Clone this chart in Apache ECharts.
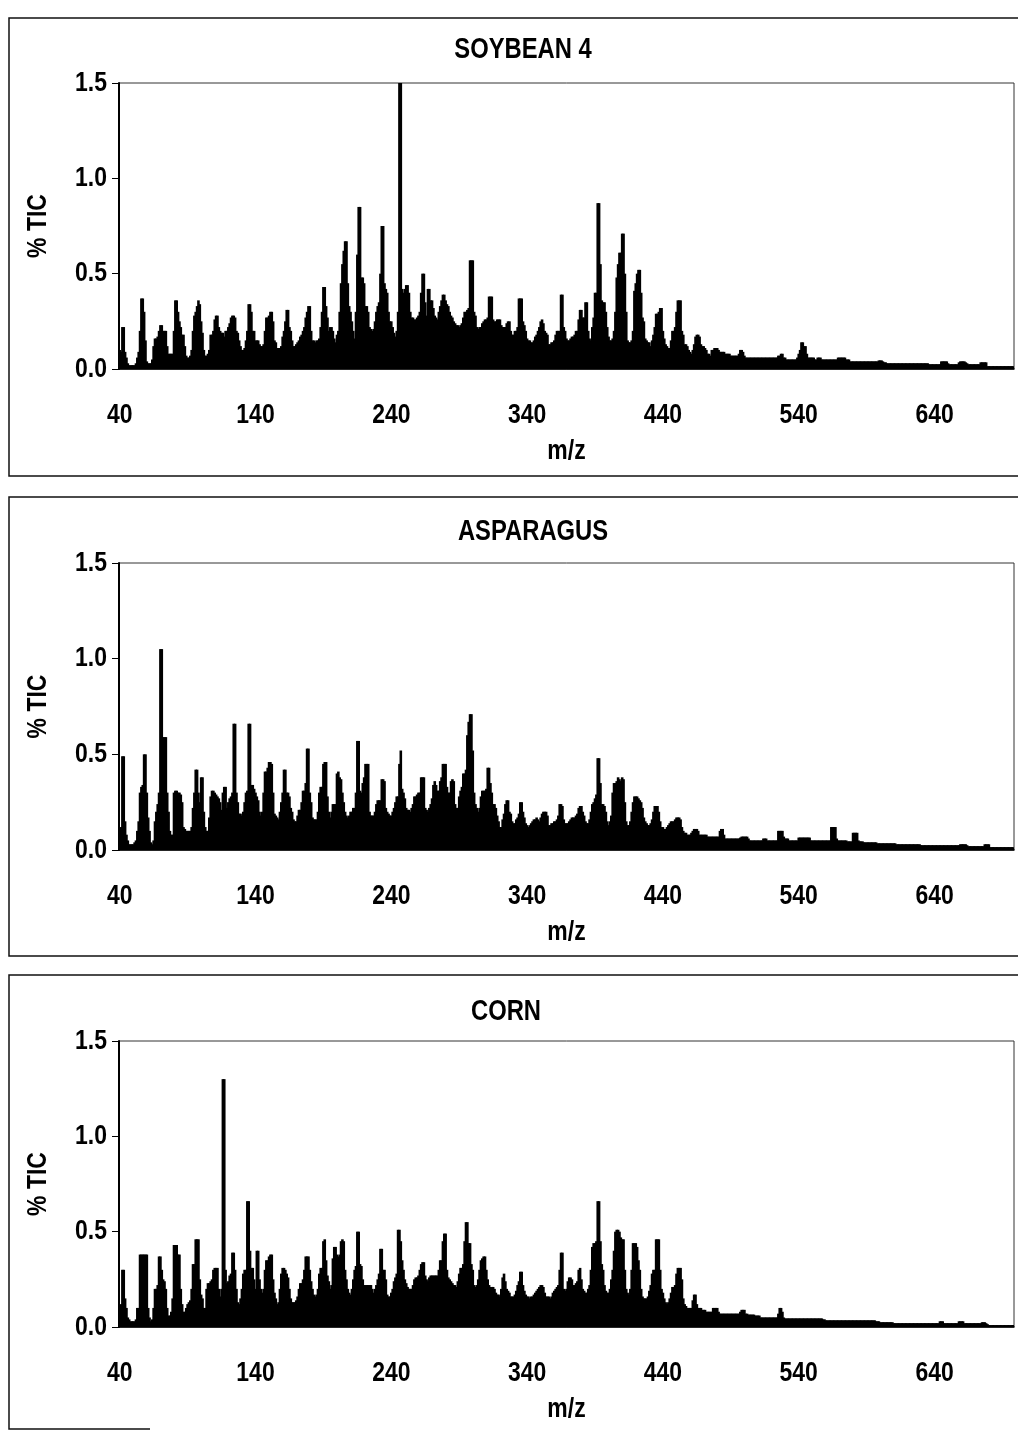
<!DOCTYPE html>
<html>
<head>
<meta charset="utf-8">
<script src="https://cdn.jsdelivr.net/npm/echarts@6/dist/echarts.min.js"></script>
<style>
html,body{margin:0;padding:0;background:#fff;}
#chart{width:1018px;height:1431px;}
</style>
</head>
<body>
<div id="chart"></div>
<script>
// ---------- DATA ----------
const MZ_START = 40;
const MZ_END = 698;
const X_TICK_LABELS = ['40', '140', '240', '340', '440', '540', '640'];
const Y_TICK_VALUES = [0.0, 0.5, 1.0, 1.5];
const Y_MIN = 0, Y_MAX = 1.5, Y_STEP = 0.5;
const PANEL_TITLES = ['SOYBEAN 4', 'ASPARAGUS', 'CORN'];
const X_NAME = 'm/z';
const Y_NAME = '% TIC';

// % TIC per unit m/z, starting at m/z 40 (10 values per row)
const SOYBEAN_4 = [
/*40*/ .10,.09,.22,.22,.09,.06,.03,.02,.02,.02,
/*50*/ .02,.02,.03,.06,.09,.20,.37,.37,.30,.15,
/*60*/ .04,.03,.03,.03,.05,.12,.16,.16,.17,.20,
/*70*/ .23,.23,.20,.20,.20,.12,.08,.08,.08,.08,
/*80*/ .20,.36,.36,.30,.25,.22,.18,.18,.12,.07,
/*90*/ .06,.06,.07,.10,.20,.28,.30,.33,.36,.34,
/*100*/ .25,.19,.10,.07,.07,.08,.10,.18,.18,.20,
/*110*/ .26,.28,.28,.22,.20,.19,.19,.17,.20,.20,
/*120*/ .22,.24,.27,.28,.28,.27,.20,.19,.15,.12,
/*130*/ .10,.10,.11,.15,.20,.34,.34,.30,.20,.20,
/*140*/ .15,.15,.15,.13,.12,.12,.13,.20,.27,.27,
/*150*/ .28,.30,.30,.25,.15,.14,.11,.11,.11,.12,
/*160*/ .17,.20,.25,.31,.31,.22,.20,.15,.12,.12,
/*170*/ .13,.14,.15,.17,.18,.20,.22,.27,.30,.33,
/*180*/ .33,.20,.15,.15,.14,.15,.15,.16,.22,.30,
/*190*/ .43,.43,.33,.27,.20,.22,.22,.20,.16,.14,
/*200*/ .18,.20,.30,.45,.55,.62,.67,.67,.45,.33,
/*210*/ .30,.25,.20,.16,.30,.60,.85,.85,.48,.48,
/*220*/ .45,.33,.33,.30,.22,.21,.20,.21,.25,.30,
/*230*/ .33,.35,.50,.75,.75,.45,.42,.40,.30,.25,
/*240*/ .25,.22,.19,.17,.20,.30,1.50,1.50,.42,.40,
/*250*/ .42,.44,.44,.40,.30,.27,.27,.26,.26,.27,
/*260*/ .28,.30,.40,.50,.50,.35,.28,.42,.42,.36,
/*270*/ .36,.32,.28,.27,.26,.30,.33,.36,.39,.39,
/*280*/ .36,.34,.33,.30,.28,.27,.25,.24,.23,.23,
/*290*/ .22,.23,.24,.27,.30,.30,.31,.32,.57,.57,
/*300*/ .57,.30,.28,.22,.21,.22,.22,.24,.25,.26,
/*310*/ .26,.27,.38,.38,.38,.26,.25,.25,.26,.26,
/*320*/ .26,.23,.22,.22,.22,.24,.25,.25,.20,.18,
/*330*/ .18,.20,.20,.22,.37,.37,.37,.25,.23,.20,
/*340*/ .16,.15,.15,.14,.14,.15,.17,.18,.20,.22,
/*350*/ .25,.26,.24,.20,.19,.18,.13,.13,.14,.14,
/*360*/ .15,.18,.20,.20,.20,.39,.39,.22,.20,.16,
/*370*/ .15,.15,.16,.17,.17,.18,.20,.20,.26,.31,
/*380*/ .31,.27,.27,.35,.35,.20,.16,.15,.22,.27,
/*390*/ .40,.40,.87,.87,.55,.36,.35,.35,.30,.22,
/*400*/ .17,.15,.15,.16,.20,.30,.48,.55,.61,.61,
/*410*/ .71,.71,.50,.30,.15,.14,.14,.15,.20,.41,
/*420*/ .45,.50,.52,.52,.40,.27,.25,.16,.15,.14,
/*430*/ .14,.12,.15,.18,.22,.29,.29,.30,.32,.32,
/*440*/ .20,.16,.13,.12,.11,.11,.15,.20,.20,.22,
/*450*/ .30,.36,.36,.36,.20,.18,.13,.13,.12,.10,
/*460*/ .09,.08,.10,.13,.17,.18,.18,.17,.13,.12,
/*470*/ .12,.11,.10,.08,.08,.07,.10,.10,.11,.11,
/*480*/ .11,.10,.09,.09,.09,.09,.08,.08,.08,.08,
/*490*/ .07,.07,.07,.07,.07,.07,.08,.10,.10,.09,
/*500*/ .07,.06,.06,.06,.06,.06,.06,.06,.06,.06,
/*510*/ .06,.06,.06,.06,.06,.06,.06,.06,.06,.06,
/*520*/ .06,.06,.06,.06,.06,.07,.07,.08,.08,.06,
/*530*/ .06,.05,.05,.05,.05,.05,.05,.05,.05,.06,
/*540*/ .08,.10,.14,.14,.12,.12,.08,.06,.06,.06,
/*550*/ .06,.06,.05,.05,.06,.06,.06,.05,.05,.05,
/*560*/ .05,.05,.05,.05,.05,.05,.05,.05,.05,.06,
/*570*/ .06,.06,.06,.06,.06,.05,.05,.05,.04,.04,
/*580*/ .04,.04,.04,.04,.04,.04,.04,.04,.04,.04,
/*590*/ .04,.04,.04,.04,.04,.04,.04,.04,.04,.045,
/*600*/ .045,.045,.04,.035,.035,.03,.03,.03,.03,.03,
/*610*/ .03,.03,.03,.03,.03,.03,.03,.03,.03,.03,
/*620*/ .03,.03,.03,.03,.03,.03,.03,.03,.03,.03,
/*630*/ .03,.03,.03,.03,.03,.03,.025,.025,.025,.025,
/*640*/ .025,.025,.025,.025,.025,.04,.04,.04,.04,.04,
/*650*/ .03,.025,.025,.025,.025,.025,.025,.025,.035,.04,
/*660*/ .04,.04,.04,.035,.03,.025,.025,.025,.025,.025,
/*670*/ .025,.025,.025,.025,.035,.035,.035,.035,.035,.015,
/*680*/ .015,.015,.015,.015,.015,.015,.015,.015,.015,.015,
/*690*/ .015,.015,.015,.015,.015,.015,.015,.015,.015
];

const ASPARAGUS = [
/*40*/ .10,.12,.49,.49,.15,.08,.05,.03,.03,.03,
/*50*/ .03,.04,.05,.10,.15,.30,.33,.34,.50,.50,
/*60*/ .30,.17,.10,.04,.03,.05,.15,.20,.24,.30,
/*70*/ 1.05,1.05,.59,.59,.59,.30,.20,.10,.08,.08,
/*80*/ .30,.31,.31,.30,.30,.29,.25,.12,.11,.10,
/*90*/ .10,.10,.10,.12,.22,.30,.42,.42,.30,.25,
/*100*/ .38,.38,.20,.12,.10,.10,.17,.28,.31,.31,
/*110*/ .30,.29,.28,.27,.25,.21,.30,.33,.33,.22,
/*120*/ .25,.27,.28,.30,.66,.66,.30,.25,.19,.19,
/*130*/ .18,.20,.25,.30,.31,.66,.66,.34,.34,.32,
/*140*/ .30,.28,.26,.20,.18,.20,.30,.41,.41,.43,
/*150*/ .46,.46,.45,.30,.19,.18,.17,.16,.20,.25,
/*160*/ .30,.42,.42,.30,.30,.28,.22,.20,.16,.15,
/*170*/ .15,.18,.21,.21,.25,.31,.31,.35,.53,.53,
/*180*/ .30,.25,.17,.16,.16,.16,.20,.30,.33,.33,
/*190*/ .45,.46,.46,.28,.20,.17,.20,.24,.24,.24,
/*200*/ .40,.41,.38,.37,.30,.25,.20,.18,.17,.18,
/*210*/ .20,.20,.22,.22,.30,.57,.57,.31,.30,.35,
/*220*/ .38,.45,.45,.45,.20,.18,.18,.18,.20,.24,
/*230*/ .26,.26,.26,.37,.37,.36,.22,.20,.19,.18,
/*240*/ .18,.20,.22,.25,.28,.28,.45,.52,.32,.30,
/*250*/ .27,.22,.21,.21,.20,.22,.24,.28,.28,.29,
/*260*/ .30,.30,.38,.38,.38,.22,.21,.20,.22,.24,
/*270*/ .27,.34,.36,.34,.31,.31,.36,.38,.45,.45,
/*280*/ .45,.33,.30,.30,.36,.37,.36,.24,.22,.22,
/*290*/ .28,.31,.33,.40,.40,.42,.60,.67,.71,.71,
/*300*/ .52,.30,.24,.22,.20,.22,.28,.31,.31,.31,
/*310*/ .32,.43,.43,.35,.30,.24,.24,.22,.18,.15,
/*320*/ .12,.12,.16,.19,.24,.26,.26,.20,.19,.15,
/*330*/ .14,.14,.16,.17,.19,.25,.25,.20,.17,.14,
/*340*/ .13,.12,.13,.14,.15,.16,.16,.17,.16,.15,
/*350*/ .17,.19,.20,.20,.20,.18,.13,.13,.14,.14,
/*360*/ .15,.15,.16,.18,.24,.24,.23,.16,.14,.14,
/*370*/ .14,.15,.16,.17,.17,.17,.18,.19,.22,.23,
/*380*/ .23,.20,.18,.15,.14,.14,.16,.20,.24,.25,
/*390*/ .27,.29,.48,.48,.35,.24,.24,.23,.20,.15,
/*400*/ .13,.15,.18,.30,.35,.35,.36,.38,.37,.36,
/*410*/ .38,.37,.25,.15,.13,.13,.15,.20,.25,.28,
/*420*/ .28,.28,.27,.26,.25,.22,.17,.15,.14,.13,
/*430*/ .13,.14,.16,.20,.23,.23,.23,.20,.15,.12,
/*440*/ .12,.11,.11,.12,.13,.14,.15,.15,.15,.16,
/*450*/ .17,.17,.17,.16,.12,.10,.09,.09,.08,.08,
/*460*/ .08,.09,.10,.11,.11,.11,.10,.08,.08,.08,
/*470*/ .08,.08,.08,.07,.07,.07,.07,.07,.07,.07,
/*480*/ .07,.07,.10,.11,.11,.08,.06,.06,.06,.06,
/*490*/ .06,.06,.06,.06,.06,.06,.06,.065,.07,.07,
/*500*/ .07,.07,.07,.06,.05,.05,.05,.05,.05,.05,
/*510*/ .05,.05,.05,.05,.06,.06,.06,.05,.05,.05,
/*520*/ .05,.05,.05,.05,.05,.10,.10,.10,.10,.07,
/*530*/ .06,.06,.06,.05,.05,.05,.05,.05,.05,.05,
/*540*/ .065,.065,.065,.065,.065,.065,.065,.065,.065,.05,
/*550*/ .05,.05,.05,.05,.05,.05,.05,.05,.05,.05,
/*560*/ .05,.05,.05,.05,.12,.12,.12,.12,.06,.05,
/*570*/ .05,.05,.05,.05,.05,.05,.045,.045,.045,.045,
/*580*/ .09,.09,.09,.09,.05,.045,.045,.045,.04,.04,
/*590*/ .04,.04,.04,.04,.04,.04,.04,.04,.035,.035,
/*600*/ .035,.035,.035,.035,.035,.035,.035,.035,.035,.035,
/*610*/ .035,.035,.03,.03,.03,.03,.03,.03,.03,.03,
/*620*/ .03,.03,.03,.03,.03,.03,.03,.03,.03,.03,
/*630*/ .025,.025,.025,.025,.025,.025,.025,.025,.025,.025,
/*640*/ .025,.025,.025,.025,.025,.025,.025,.025,.025,.025,
/*650*/ .025,.025,.025,.025,.025,.025,.025,.025,.025,.03,
/*660*/ .03,.03,.03,.03,.025,.02,.02,.02,.02,.02,
/*670*/ .02,.02,.02,.02,.02,.02,.02,.03,.03,.03,
/*680*/ .03,.015,.015,.015,.015,.015,.015,.015,.015,.015,
/*690*/ .015,.015,.015,.015,.015,.015,.015,.015,.015
];

const CORN = [
/*40*/ .10,.12,.30,.30,.15,.10,.05,.04,.03,.03,
/*50*/ .03,.03,.04,.10,.10,.38,.38,.38,.38,.38,
/*60*/ .38,.10,.05,.03,.04,.10,.20,.20,.22,.37,
/*70*/ .37,.30,.25,.24,.20,.10,.06,.06,.08,.15,
/*80*/ .43,.43,.43,.38,.38,.20,.12,.08,.08,.10,
/*90*/ .12,.13,.14,.20,.33,.33,.46,.46,.46,.25,
/*100*/ .17,.15,.10,.10,.20,.23,.23,.24,.25,.30,
/*110*/ .31,.31,.31,.20,.16,.20,1.30,1.30,.30,.23,
/*120*/ .24,.27,.28,.39,.39,.30,.20,.13,.12,.15,
/*130*/ .20,.28,.30,.30,.66,.66,.40,.31,.31,.25,
/*140*/ .20,.40,.40,.25,.20,.18,.20,.30,.35,.35,
/*150*/ .37,.38,.38,.25,.18,.15,.12,.13,.20,.28,
/*160*/ .31,.31,.30,.28,.26,.20,.15,.13,.13,.13,
/*170*/ .14,.16,.20,.23,.23,.25,.30,.37,.37,.37,
/*180*/ .30,.24,.20,.17,.16,.17,.20,.28,.31,.31,
/*190*/ .45,.46,.35,.27,.24,.20,.22,.36,.42,.42,
/*200*/ .38,.37,.38,.45,.46,.45,.30,.25,.20,.18,
/*210*/ .17,.20,.25,.30,.32,.50,.50,.33,.32,.25,
/*220*/ .22,.22,.22,.22,.22,.22,.20,.18,.20,.22,
/*230*/ .25,.28,.41,.41,.30,.30,.25,.17,.16,.16,
/*240*/ .18,.20,.24,.26,.28,.51,.51,.45,.35,.30,
/*250*/ .25,.23,.21,.20,.20,.20,.22,.25,.26,.26,
/*260*/ .27,.30,.33,.34,.34,.27,.25,.24,.26,.27,
/*270*/ .27,.27,.27,.27,.27,.30,.35,.35,.45,.49,
/*280*/ .49,.30,.26,.25,.24,.23,.22,.22,.21,.24,
/*290*/ .28,.31,.31,.33,.45,.55,.55,.44,.44,.33,
/*300*/ .30,.22,.21,.22,.25,.30,.35,.36,.37,.37,
/*310*/ .30,.25,.22,.21,.21,.21,.20,.18,.17,.17,
/*320*/ .16,.20,.26,.28,.24,.20,.19,.18,.16,.16,
/*330*/ .16,.17,.19,.22,.24,.29,.29,.22,.19,.17,
/*340*/ .16,.16,.15,.16,.16,.17,.18,.19,.20,.21,
/*350*/ .22,.22,.21,.18,.16,.16,.16,.15,.16,.18,
/*360*/ .19,.20,.21,.22,.30,.39,.39,.20,.19,.20,
/*370*/ .24,.26,.26,.25,.22,.22,.23,.24,.30,.31,
/*380*/ .25,.20,.19,.18,.18,.20,.22,.30,.42,.44,
/*390*/ .44,.45,.66,.66,.45,.33,.30,.22,.19,.18,
/*400*/ .18,.20,.25,.30,.40,.50,.51,.51,.50,.47,
/*410*/ .46,.46,.30,.20,.18,.17,.20,.30,.44,.44,
/*420*/ .44,.42,.35,.30,.20,.16,.15,.15,.15,.16,
/*430*/ .19,.22,.28,.30,.30,.46,.46,.46,.30,.20,
/*440*/ .18,.15,.13,.12,.13,.15,.18,.21,.21,.22,
/*450*/ .28,.31,.31,.31,.25,.15,.12,.11,.10,.10,
/*460*/ .10,.10,.14,.17,.17,.12,.10,.10,.10,.09,
/*470*/ .09,.09,.08,.08,.08,.08,.08,.10,.10,.10,
/*480*/ .10,.08,.07,.07,.07,.07,.07,.07,.07,.07,
/*490*/ .07,.07,.07,.07,.07,.07,.07,.08,.09,.09,
/*500*/ .09,.07,.07,.065,.065,.065,.065,.065,.06,.06,
/*510*/ .06,.06,.05,.05,.05,.05,.05,.05,.05,.05,
/*520*/ .05,.05,.05,.05,.05,.07,.10,.10,.08,.05,
/*530*/ .045,.045,.045,.045,.045,.045,.045,.045,.045,.045,
/*540*/ .045,.045,.045,.045,.045,.045,.045,.045,.045,.045,
/*550*/ .045,.045,.045,.045,.045,.045,.045,.045,.04,.04,
/*560*/ .035,.035,.035,.035,.035,.035,.035,.035,.035,.035,
/*570*/ .035,.035,.035,.035,.035,.035,.035,.035,.035,.035,
/*580*/ .035,.035,.035,.035,.035,.035,.035,.035,.035,.035,
/*590*/ .035,.035,.035,.035,.035,.035,.035,.03,.03,.03,
/*600*/ .025,.025,.025,.025,.025,.025,.025,.025,.025,.025,
/*610*/ .02,.02,.02,.02,.02,.02,.02,.02,.02,.02,
/*620*/ .02,.02,.02,.02,.02,.02,.02,.02,.02,.02,
/*630*/ .02,.02,.02,.02,.02,.02,.02,.02,.02,.02,
/*640*/ .02,.02,.02,.02,.03,.03,.03,.02,.02,.02,
/*650*/ .02,.02,.02,.02,.02,.02,.02,.02,.03,.03,
/*660*/ .03,.03,.02,.02,.02,.02,.02,.02,.02,.02,
/*670*/ .02,.02,.02,.02,.02,.025,.025,.025,.02,.015,
/*680*/ .01,.01,.01,.01,.01,.01,.01,.01,.01,.01,
/*690*/ .01,.01,.01,.01,.01,.01,.01,.01,.01
];

const SERIES_DATA = [SOYBEAN_4, ASPARAGUS, CORN];

// ---------- LAYOUT ----------
const MZ_CATEGORIES = [];
for (let m = MZ_START; m <= MZ_END; m++) MZ_CATEGORIES.push(String(m));

const FONT = '"Liberation Sans", Arial, sans-serif';
const NARROW = 0.82;          // horizontal squeeze to mimic a condensed bold face
const LABEL_SIZE = 28, TITLE_SIZE = 29;
const PLOT_LEFT = 119, PLOT_WIDTH = 895;
const PANELS = [
  { top: 83,   height: 286, boxTop: 18,  boxBottom: 476,  titleY: 50,   titleX: 523 },
  { top: 563,  height: 287, boxTop: 497, boxBottom: 956,  titleY: 532,  titleX: 533 },
  { top: 1041, height: 286, boxTop: 975, boxBottom: 1429, titleY: 1012, titleX: 506 }
];

const chart = echarts.init(document.getElementById('chart'), null, { renderer: 'canvas' });

const grids = [], xAxes = [], yAxes = [], series = [];
PANELS.forEach((p, i) => {
  grids.push({
    left: PLOT_LEFT, top: p.top, width: PLOT_WIDTH, height: p.height,
    show: true, borderColor: '#333', borderWidth: 1, backgroundColor: 'transparent'
  });
  xAxes.push({
    type: 'category', gridIndex: i, data: MZ_CATEGORIES, boundaryGap: true,
    axisLine: { show: true, lineStyle: { color: '#000', width: 1.5 } },
    axisTick: { show: false }, splitLine: { show: false }, axisLabel: { show: false }
  });
  yAxes.push({
    type: 'value', gridIndex: i, min: Y_MIN, max: Y_MAX, interval: Y_STEP,
    axisLine: { show: true, lineStyle: { color: '#000', width: 2 } },
    axisTick: { show: true, inside: false, length: 7, lineStyle: { color: '#000', width: 1 } },
    splitLine: { show: false }, axisLabel: { show: false }
  });
  series.push({
    type: 'bar', xAxisIndex: i, yAxisIndex: i, data: SERIES_DATA[i],
    barWidth: 2.6, barGap: '0%', barCategoryGap: '0%',
    itemStyle: { color: '#000' }, silent: true
  });
});

chart.setOption({
  animation: false, backgroundColor: '#fff',
  grid: grids, xAxis: xAxes, yAxis: yAxes, series: series
});

// ---------- TEXT (placed through the chart's own axes) ----------
function txt(text, x, y, size, align, extra) {
  return Object.assign({
    type: 'text', silent: true, x: x, y: y, scaleX: NARROW, scaleY: 1,
    style: { text: text, textAlign: align, textVerticalAlign: 'middle',
             font: 'bold ' + size + 'px ' + FONT, fill: '#000' }
  }, extra || {});
}

const graphics = [];
PANELS.forEach((p, i) => {
  const bottom = p.top + p.height;
  // outer panel frame
  graphics.push({
    type: 'polyline', silent: true,
    shape: { points: [[1030, p.boxTop], [9, p.boxTop], [9, p.boxBottom], [i === 2 ? 150 : 1030, p.boxBottom]] },
    style: { stroke: '#111', lineWidth: 1.5, fill: null }
  });
  // title
  graphics.push(txt(PANEL_TITLES[i], p.titleX, p.titleY, TITLE_SIZE, 'center'));
  // x tick labels
  X_TICK_LABELS.forEach(lab => {
    const px = chart.convertToPixel({ xAxisIndex: i }, lab);
    graphics.push(txt(lab, px, bottom + 46, LABEL_SIZE, 'center'));
  });
  // y tick labels
  Y_TICK_VALUES.forEach(v => {
    const py = chart.convertToPixel({ yAxisIndex: i }, v);
    graphics.push(txt(v.toFixed(1), PLOT_LEFT - 12, py, LABEL_SIZE, 'right'));
  });
  // axis names
  graphics.push(txt(X_NAME, PLOT_LEFT + PLOT_WIDTH / 2, bottom + 82, LABEL_SIZE, 'center'));
  graphics.push(txt(Y_NAME, 38, p.top + p.height / 2, LABEL_SIZE, 'center', { rotation: Math.PI / 2 }));
});

chart.setOption({ graphic: { elements: graphics } });
</script>
</body>
</html>
